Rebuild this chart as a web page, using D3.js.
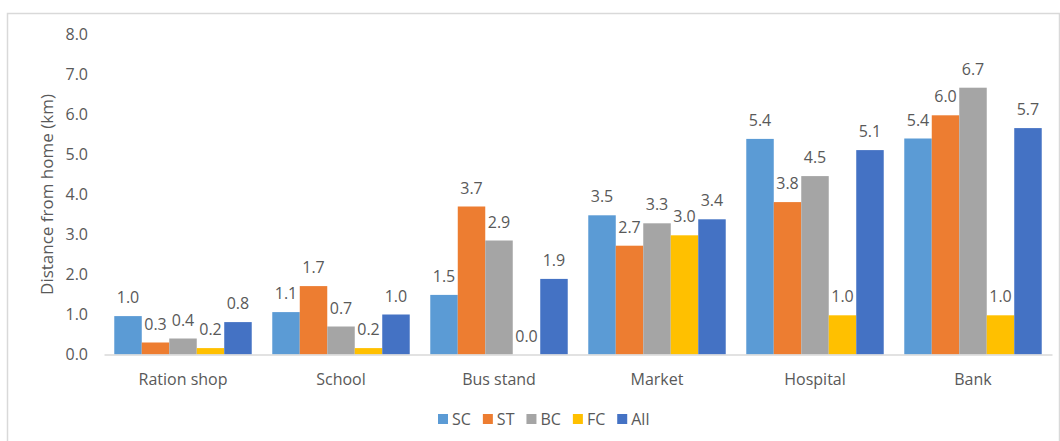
<!DOCTYPE html>
<html>
<head>
<meta charset="utf-8">
<script src="https://cdn.jsdelivr.net/npm/d3@7"></script>
<style>
  html, body { margin: 0; padding: 0; background: #fff; }
  svg { display: block; }
  text { font-family: "Open Sans", sans-serif; fill: #595959; }
</style>
</head>
<body>
<svg id="chart" width="1060" height="441"></svg>
<script>
const categories = ["Ration shop", "School", "Bus stand", "Market", "Hospital", "Bank"];
const seriesNames = ["SC", "ST", "BC", "FC", "All"];
const SC  = [0.96, 1.06, 1.49, 3.48, 5.39, 5.40];
const ST  = [0.30, 1.71, 3.70, 2.72, 3.81, 5.98];
const BC  = [0.40, 0.70, 2.85, 3.28, 4.46, 6.67];
const FC  = [0.16, 0.16, 0.00, 2.98, 0.98, 0.98];
const All = [0.81, 1.00, 1.89, 3.38, 5.11, 5.66];
const yTicks = [0, 1, 2, 3, 4, 5, 6, 7, 8];
const colors = ["#5B9BD5", "#ED7D31", "#A5A5A5", "#FFC000", "#4472C4"];

const seriesValues = [SC, ST, BC, FC, All];
const svg = d3.select("#chart");

// outer frame
svg.append("rect")
  .attr("x", 7.5).attr("y", 13.5)
  .attr("width", 1052).attr("height", 440)
  .attr("fill", "none").attr("stroke", "#d9d9d9").attr("stroke-width", 1.5);

const x0 = d3.scaleBand().domain(categories).range([104, 1052])
  .paddingInner(0.13).paddingOuter(0.065);
const x1 = d3.scaleBand().domain(seriesNames).range([0, x0.bandwidth()]);
const y = d3.scaleLinear().domain([0, 8]).range([354.5, 34.5]);

// y axis tick labels
const yAxis = d3.axisLeft(y).tickValues(yTicks).tickFormat(d3.format(".1f")).tickSize(0).tickPadding(0);
const yg = svg.append("g").attr("transform", "translate(88,0)").call(yAxis);
yg.select(".domain").remove();
yg.selectAll("text").attr("font-size", 16).attr("fill", "#595959")
  .style("font-family", "'Open Sans', sans-serif");

// y title
svg.append("text")
  .attr("transform", `translate(53,${(y(0)+y(8))/2}) rotate(-90)`)
  .attr("text-anchor", "middle")
  .attr("font-size", 17)
  .text("Distance from home (km)");

// bars
const groups = svg.append("g").selectAll("g")
  .data(categories)
  .join("g")
  .attr("transform", d => `translate(${x0(d)},0)`);

groups.selectAll("rect")
  .data((c, i) => seriesNames.map((s, k) => ({ s, v: seriesValues[k][i], k })))
  .join("rect")
  .attr("x", d => x1(d.s))
  .attr("y", d => y(d.v))
  .attr("width", x1.bandwidth())
  .attr("height", d => y(0) - y(d.v))
  .attr("fill", d => colors[d.k]);

groups.selectAll("text.lbl")
  .data((c, i) => seriesNames.map((s, k) => ({ s, v: seriesValues[k][i], k })))
  .join("text")
  .attr("class", "lbl")
  .attr("x", d => x1(d.s) + x1.bandwidth() / 2)
  .attr("y", d => y(d.v) - 13)
  .attr("text-anchor", "middle")
  .attr("font-size", 16)
  .text(d => d3.format(".1f")(d.v));

// x axis
const xAxis = d3.axisBottom(x0).tickSize(0).tickPadding(0);
const xg = svg.append("g").attr("transform", `translate(0,${y(0)})`).call(xAxis);
xg.select(".domain").attr("stroke", "#d9d9d9").attr("stroke-width", 1.5);
xg.selectAll("text").attr("font-size", 16).attr("fill", "#595959")
  .attr("dy", null).attr("y", 30)
  .style("font-family", "'Open Sans', sans-serif");

// legend
const legend = svg.append("g").attr("transform", "translate(438,419)");
let lx = 0;
seriesNames.forEach((s, k) => {
  const g = legend.append("g").attr("transform", `translate(${lx},0)`);
  g.append("rect").attr("x", 0).attr("y", -5).attr("width", 10).attr("height", 10).attr("fill", colors[k]);
  const t = g.append("text").attr("x", 14).attr("y", 5.5).attr("font-size", 16).text(s);
  lx += 14 + t.node().getComputedTextLength() + 12;
});
</script>
</body>
</html>
